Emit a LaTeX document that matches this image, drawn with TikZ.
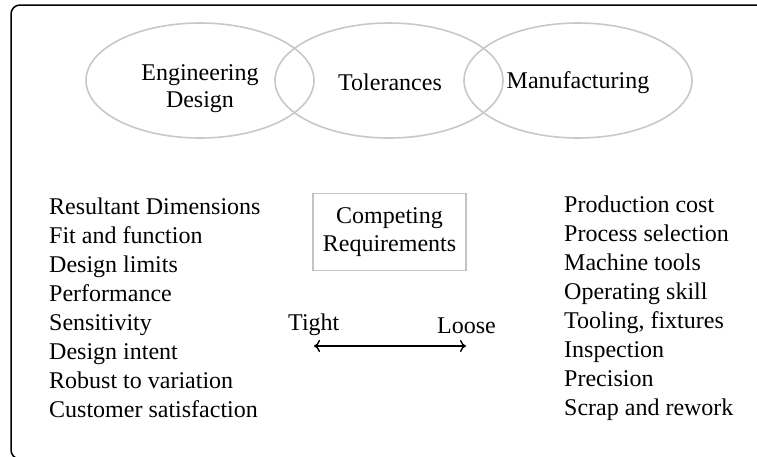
\documentclass[tikz,border=0pt]{standalone}
\usepackage{fontspec}
\setmainfont{Liberation Serif}
\usetikzlibrary{shapes.geometric,arrows.meta}
\definecolor{ringgray}{RGB}{200,200,200}
\definecolor{boxgray}{RGB}{195,195,195}
\begin{document}
\begin{tikzpicture}[x=1pt,y=-1pt,
  every node/.style={font=\fontsize{24}{29}\selectfont, inner sep=0pt},
  ring/.style={ellipse, draw=ringgray, line width=1.6pt, minimum width=228pt, minimum height=115pt},
  item/.style={anchor=base west},
  reqbox/.style={draw=boxgray, line width=1.6pt, minimum width=153pt, minimum height=77pt, align=center, font=\fontsize{24}{28}\selectfont},
  barb/.tip={Computer Modern Rightarrow[length=6pt,width=12pt,line width=1.4pt]},
  twoway/.style={barb-barb, line width=1.4pt}]
\useasboundingbox (0,0) rectangle (757,456);
\clip (0,0) rectangle (757,456);
\draw[line width=1.5pt, rounded corners=9pt] (11,5) rectangle (1000,459);

\node[ring] (ed) at (200,80.5) {};
\node[ring] (tol) at (389,80.5) {};
\node[ring] (man) at (578,80.5) {};
\node[align=center, font=\fontsize{24}{27}\selectfont] (edt) at (200,89) {Engineering\\Design};
\node[item, anchor=base] (tolt) at (390,90) {Tolerances};
\node[item, anchor=base] (mant) at (578,88) {Manufacturing};

\node[reqbox] (req) at (389.5,232) {Competing\\Requirements};

\foreach \t [count=\i] in {Resultant Dimensions,Fit and function,Design limits,Performance,Sensitivity,Design intent,Robust to variation,Customer satisfaction}
  \node[item] (L\i) at (49,{214+29*(\i-1)}) {\t};
\foreach \t [count=\i] in {Production cost,Process selection,Machine tools,Operating skill,{Tooling, fixtures},Inspection,Precision,Scrap and rework}
  \node[item] (R\i) at (564,{212+29*(\i-1)}) {\t};

\node[item] (tight) at (288,330) {Tight};
\node[item] (loose) at (437,333) {Loose};
\coordinate (al) at (314,346);
\coordinate (ar) at (466,346);
\draw[twoway] (al) -- (ar);
\end{tikzpicture}
\end{document}
